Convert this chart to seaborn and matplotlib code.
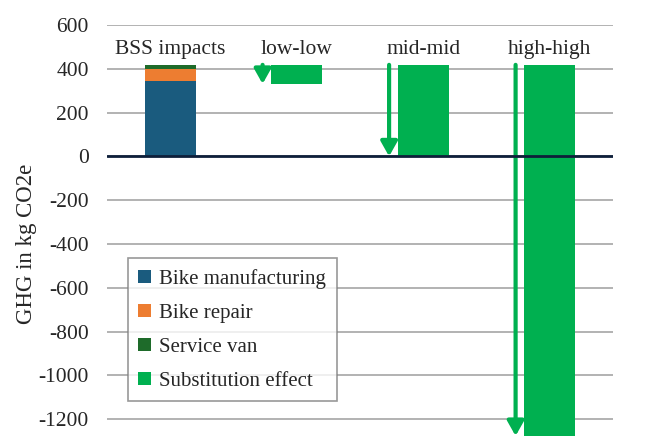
import seaborn as sns
import matplotlib.pyplot as plt
import pandas as pd

# values (kg CO2e)
scenarios = ["BSS impacts", "low-low", "mid-mid", "high-high"]
bss_parts = ["Bike manufacturing", "Bike repair", "Service van"]
bss_values = [345, 52, 21]
substitution = [0, -87, -418, -1695]
colors = {"Bike manufacturing": "#1a5b7e", "Bike repair": "#ed7d31",
          "Service van": "#1e6b2a", "Substitution effect": "#00b050"}

sns.set_style("white")
plt.rcParams["font.family"] = ["Liberation Serif", "DejaVu Serif"]
plt.rcParams["axes.unicode_minus"] = False

fig = plt.figure(figsize=(6.63, 4.41), dpi=100)
ax = fig.add_axes([107 / 663, 0.0, 506 / 663, 416 / 441])

total = sum(bss_values)

# stacked BSS bar: draw cumulative heights, tallest first
cum = pd.Series(bss_values, index=bss_parts).cumsum()
for part in reversed(bss_parts):
    df = pd.DataFrame({"scenario": [scenarios[0]], "value": [cum[part]]})
    sns.barplot(data=df, x="scenario", y="value", order=scenarios,
                color=colors[part], width=0.4, saturation=1, ax=ax,
                label=part, zorder=3, linewidth=0)

# floating substitution bars hanging down from the BSS total
sub_df = pd.DataFrame({"scenario": scenarios[1:], "value": substitution[1:]})
sns.barplot(data=sub_df, x="scenario", y="value", order=scenarios,
            color=colors["Substitution effect"], width=0.4, saturation=1,
            bottom=total, ax=ax, label="Substitution effect", zorder=3,
            linewidth=0)

# arrows showing the drop
for i, s in enumerate(substitution):
    if i == 0:
        continue
    ax.annotate("", xy=(i - 0.27, total + s), xytext=(i - 0.27, total),
                arrowprops=dict(arrowstyle="-|>,head_length=0.8,head_width=0.45",
                                color=colors["Substitution effect"], lw=3,
                                shrinkA=0, shrinkB=0, mutation_scale=11),
                zorder=4)

for i, name in enumerate(scenarios):
    ax.text(i, 490, name, ha="center", va="center", fontsize=15.5)

ax.set_ylim(-1300, 600)
ax.set_xlim(-0.5, 3.5)
ax.set_yticks(range(-1200, 601, 200))
ax.yaxis.grid(True, color="#a6a6a6", lw=1.2, zorder=0)
ax.axhline(0, color="#0e1f3a", lw=2, zorder=5)
ax.set_axisbelow(True)
for sp in ax.spines.values():
    sp.set_visible(False)
ax.set_xticks([])
ax.set_xlabel("")
ax.set_ylabel("GHG in kg CO2e", fontsize=16.5)
ax.yaxis.set_label_coords(-70 / 506, 0.474)
ax.tick_params(axis="y", length=0, pad=13, labelsize=15.5)

handles, labels = ax.get_legend_handles_labels()
order = bss_parts + ["Substitution effect"]
hmap = dict(zip(labels, handles))
leg = ax.legend([hmap[l] for l in order], order, loc="lower left",
                bbox_to_anchor=(21 / 506, 40 / 416), borderaxespad=0,
                fontsize=15, frameon=True, fancybox=False, edgecolor="#7f7f7f",
                handlelength=0.6, handleheight=0.6, handletextpad=0.4,
                labelspacing=0.72, borderpad=0.5)
leg.get_frame().set_linewidth(1.2)

fig.savefig("out.png", dpi=100)
